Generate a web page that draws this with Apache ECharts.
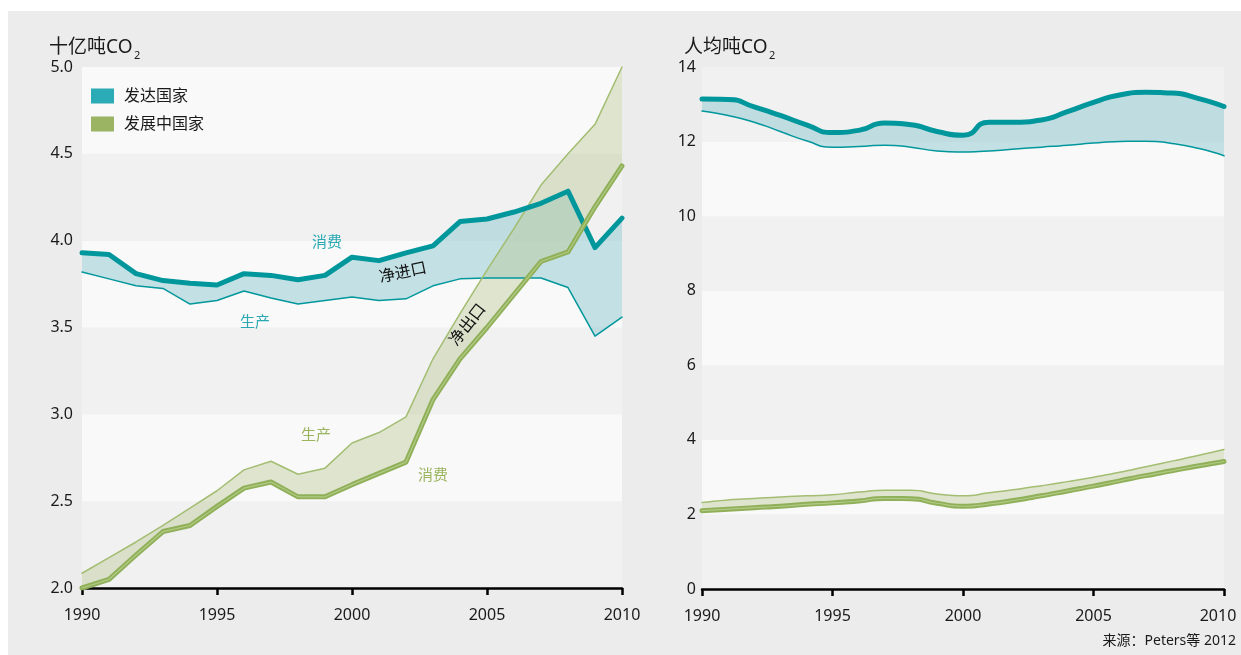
<!DOCTYPE html>
<html><head><meta charset="utf-8">
<script src="https://cdn.jsdelivr.net/npm/echarts/dist/echarts.min.js"></script>
<style>
html,body{margin:0;padding:0;background:#fff;}
#c{width:1241px;height:655px;background:linear-gradient(#ececec,#ececec) no-repeat 8px 11px / 1233px 644px,#fff;}
</style>
</head><body><div id="c"></div>
<script>
// ---- data ----
const years = ['1990','1991','1992','1993','1994','1995','1996','1997','1998','1999','2000','2001','2002','2003','2004','2005','2006','2007','2008','2009','2010'];
// Left: total emissions, billion t CO2
const devCons   = [3.93,3.92,3.81,3.77,3.755,3.745,3.81,3.80,3.775,3.80,3.905,3.885,3.93,3.97,4.11,4.125,4.165,4.215,4.285,3.96,4.13];
const devProd   = [3.82,3.78,3.74,3.725,3.635,3.655,3.71,3.67,3.635,3.655,3.675,3.655,3.665,3.74,3.78,3.785,3.785,3.785,3.73,3.45,3.56];
const dvgProd   = [2.085,2.175,2.265,2.36,2.46,2.56,2.68,2.73,2.655,2.69,2.835,2.895,2.985,3.32,3.58,3.83,4.07,4.32,4.50,4.67,5.0];
const dvgCons   = [2.0,2.05,2.19,2.325,2.36,2.47,2.575,2.61,2.525,2.525,2.595,2.66,2.725,3.085,3.32,3.50,3.69,3.88,3.935,4.195,4.43];
// Right: per capita, t CO2
const devConsPC = [13.14,13.13,12.93,12.7,12.45,12.24,12.3,12.5,12.45,12.27,12.17,12.52,12.52,12.58,12.8,13.05,13.25,13.32,13.3,13.16,12.94];
const devProdPC = [12.82,12.7,12.52,12.27,12.02,11.85,11.87,11.9,11.85,11.75,11.72,11.75,11.8,11.85,11.9,11.96,12.0,12.01,11.95,11.82,11.62];
const dvgProdPC = [2.32,2.39,2.43,2.47,2.50,2.53,2.6,2.65,2.65,2.55,2.5,2.58,2.67,2.77,2.88,3.0,3.13,3.28,3.43,3.58,3.74];
const dvgConsPC = [2.1,2.14,2.18,2.22,2.27,2.31,2.36,2.43,2.42,2.3,2.22,2.28,2.38,2.5,2.63,2.76,2.9,3.04,3.17,3.3,3.42];
const leftTicks = [2.0,2.5,3.0,3.5,4.0,4.5,5.0];
const rightTicks = [0,2,4,6,8,10,12,14];
const seriesNames = ['发达国家','发展中国家'];

// ---- styles ----
const FONT = "'Noto Sans','Noto Sans CJK SC',sans-serif";
const teal = '#00979c', tealLabel = '#2aa9b3', tealFill = 'rgba(142,200,208,0.5)';
const green = '#8fb058', greenInner = '#b2c984', greenThin = '#a3bd72', greenLabel = '#9bb55f', greenFill = 'rgba(183,198,142,0.4)';
const bandA = '#f1f1f1', bandB = '#f9f9f9';
const SM = 0.6;

function diff(a, b) { return a.map((v, i) => +(v - b[i]).toFixed(4)); }
function line(name, data, idx, color, width, smooth, z) {
  return {name, type:'line', xAxisIndex:idx, yAxisIndex:idx, data, symbol:'none', smooth,
    lineStyle:{color, width, cap:'round', join:'round'}, z, silent:true, animation:false};
}
function band(name, base, top, idx, stack, fill, smooth, z) {
  return [
    {name:'_'+stack, type:'line', stack, xAxisIndex:idx, yAxisIndex:idx, data:base, symbol:'none', smooth,
      lineStyle:{width:0, opacity:0}, silent:true, animation:false, z},
    {name, type:'line', stack, xAxisIndex:idx, yAxisIndex:idx, data:diff(top, base), symbol:'none', smooth,
      lineStyle:{width:0, opacity:0}, areaStyle:{color:fill, opacity:1}, itemStyle:{color:fill}, silent:true, animation:false, z}
  ];
}
function xAxis(idx, rightPad) {
  return {type:'category', gridIndex:idx, data:years, boundaryGap:false,
    axisLine:{show:true, lineStyle:{color:'#000', width:2.5}},
    axisTick:{show:true, interval:4, length:7, lineStyle:{color:'#000', width:2.5}},
    axisLabel:{interval:4, margin:19, fontSize:16, color:'#1a1a1a', fontFamily:FONT,
      formatter: v => (rightPad && v === years[years.length-1]) ? '{r|' + v + '}' : v,
      rich:{r:{padding:[0,12,0,0], fontSize:16, color:'#1a1a1a', fontFamily:FONT}}},
    splitLine:{show:false}};
}
function yAxis(idx, ticks, dec, margin) {
  return {type:'value', gridIndex:idx, min:ticks[0], max:ticks[ticks.length-1], interval:ticks[1]-ticks[0],
    axisLine:{show:false}, axisTick:{show:false}, splitLine:{show:false},
    splitArea:{show:true, areaStyle:{color:[bandA, bandB]}},
    axisLabel:{margin, fontSize:16, color:'#1a1a1a', fontFamily:FONT, formatter: v => v.toFixed(dec)}};
}
function txt(text, x, y, color, size, rot, align) {
  return {type:'text', x, y, rotation:rot || 0, z:100,
    style:{text, fill:color, font:size + 'px ' + FONT, align:align || 'center', verticalAlign:'middle'}};
}

const chart = echarts.init(document.getElementById('c'), null, {renderer:'canvas'});
chart.setOption({
  animation:false,
  grid:[
    {left:82, right:619, top:67, bottom:67},
    {left:702, right:17, top:67, bottom:66}
  ],
  xAxis:[xAxis(0, false), xAxis(1, true)],
  yAxis:[yAxis(0, leftTicks, 1, 9), yAxis(1, rightTicks, 0, 6)],
  legend:{orient:'vertical', left:91, top:88, padding:0, itemWidth:23, itemHeight:15, itemGap:12,
    selectedMode:false,
    textStyle:{fontSize:16, color:'#1a1a1a', fontFamily:FONT, padding:[0,0,0,5]},
    data:[{name:seriesNames[0], icon:'rect', itemStyle:{color:'#2aabb5', borderWidth:0}},
          {name:seriesNames[1], icon:'rect', itemStyle:{color:'#9bb463', borderWidth:0}}]},
  series:[
    ...band(seriesNames[0], devProd, devCons, 0, 'L1', tealFill, false, 2),
    ...band(seriesNames[1], dvgCons, dvgProd, 0, 'L2', greenFill, false, 3),
    line('l-devProd', devProd, 0, teal, 1.5, false, 5),
    line('l-devCons', devCons, 0, teal, 5, false, 6),
    line('l-dvgProd', dvgProd, 0, greenThin, 1.5, false, 5),
    line('l-dvgCons', dvgCons, 0, green, 5, false, 6),
    line('l-dvgCons2', dvgCons, 0, greenInner, 1.2, false, 7),
    ...band(seriesNames[0], devProdPC, devConsPC, 1, 'R1', tealFill, SM, 2),
    ...band(seriesNames[1], dvgConsPC, dvgProdPC, 1, 'R2', greenFill, SM, 3),
    line('r-devProd', devProdPC, 1, teal, 1.5, SM, 5),
    line('r-devCons', devConsPC, 1, teal, 5, SM, 6),
    line('r-dvgProd', dvgProdPC, 1, greenThin, 1.5, SM, 5),
    line('r-dvgCons', dvgConsPC, 1, green, 5, SM, 6),
    line('r-dvgCons2', dvgConsPC, 1, greenInner, 1.2, SM, 7)
  ],
  graphic:[
    txt('十亿吨CO', 49, 48, '#1a1a1a', 19, 0, 'left'),
    txt('2', 134, 56, '#1a1a1a', 11, 0, 'left'),
    txt('人均吨CO', 684, 48, '#1a1a1a', 19, 0, 'left'),
    txt('2', 769, 56, '#1a1a1a', 11, 0, 'left'),
    txt('消费', 327, 243, tealLabel, 15),
    txt('生产', 255, 323, tealLabel, 15),
    txt('生产', 316, 436, greenLabel, 15),
    txt('消费', 433, 476, greenLabel, 15),
    txt('净进口', 403, 273, '#111', 16, 12 * Math.PI / 180),
    txt('净出口', 468, 325, '#111', 16, 52 * Math.PI / 180),
    txt('来源：Peters等 2012', 1236, 641, '#1a1a1a', 14, 0, 'right')
  ]
});
</script>
</body></html>
